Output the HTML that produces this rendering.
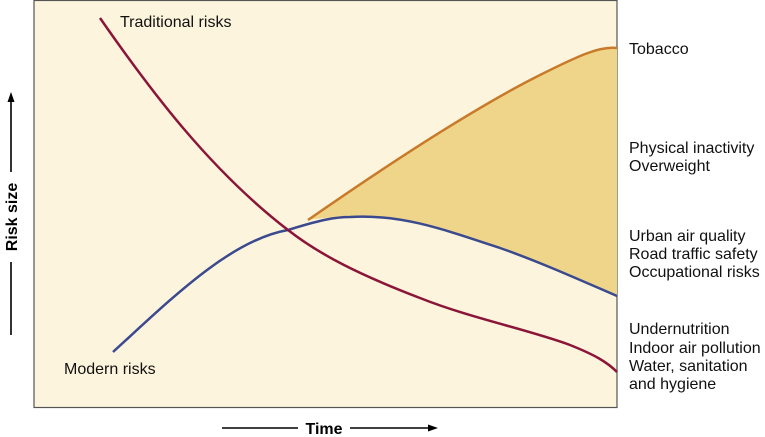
<!DOCTYPE html>
<html><head><style>
body{margin:0;background:#fff;}
svg{display:block;font-family:"Liberation Sans",sans-serif;}
</style></head><body>
<svg width="765" height="437" viewBox="0 0 765 437">
<rect x="34" y="0.5" width="583" height="407" fill="#fcf4dc" stroke="#555" stroke-width="1.2"/>
<path d="M308,220 C380,170 470,110 540,75 C580,55 600,46 617,48 L617,296 C580,280 540,262 500,248 C440,228 400,214 350,217 C335,217 320,218 308,220 Z" fill="#efd58a"/>
<path d="M308,220 C380,170 470,110 540,75 C580,55 600,46 617,48" fill="none" stroke="#c87a2a" stroke-width="2.5"/>
<path d="M113,352 C170,300 230,240 288,230 C320,220 335,217 350,217 C400,214 440,228 500,248 C540,262 580,280 617,296" fill="none" stroke="#3b4a8f" stroke-width="2.5"/>
<path d="M100,18 C150,90 210,170 288,230 C320,255 360,275 420,298 C470,318 530,330 570,345 C595,355 607,362 617,372" fill="none" stroke="#8b1538" stroke-width="2.5"/>
<g font-size="16" fill="#111">
<text x="120" y="27">Traditional risks</text>
<text x="64" y="374">Modern risks</text>
<text x="629" y="54">Tobacco</text>
<text x="629" y="153">Physical inactivity</text>
<text x="629" y="171">Overweight</text>
<text x="629" y="241">Urban air quality</text>
<text x="629" y="259">Road traffic safety</text>
<text x="629" y="277">Occupational risks</text>
<text x="629" y="334">Undernutrition</text>
<text x="629" y="353">Indoor air pollution</text>
<text x="629" y="371">Water, sanitation</text>
<text x="629" y="389">and hygiene</text>
</g>
<g stroke="#000" stroke-width="1.6">
<line x1="222" y1="428" x2="298" y2="428"/>
<line x1="350" y1="428" x2="430" y2="428"/>
<line x1="11" y1="335" x2="11" y2="262"/>
<line x1="11" y1="172" x2="11" y2="100"/>
</g>
<polygon points="438,428 428,424.5 428,431.5" fill="#000"/>
<polygon points="11,92 7.5,102 14.5,102" fill="#000"/>
<text x="324" y="434" font-size="16" font-weight="bold" text-anchor="middle">Time</text>
<text x="0" y="0" font-size="16" font-weight="bold" text-anchor="middle" transform="translate(17,217) rotate(-90)">Risk size</text>
</svg>
</body></html>
